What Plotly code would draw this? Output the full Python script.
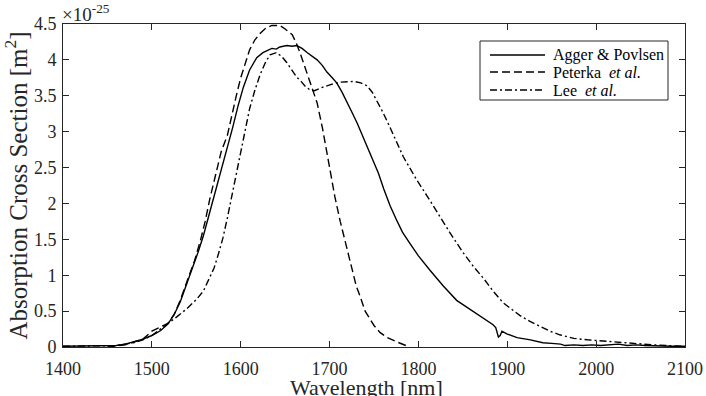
import plotly.graph_objects as go

# Agger & Povlsen (solid)
agger_wl = [1400, 1420, 1440, 1460, 1470, 1480, 1490, 1500, 1510, 1518, 1525, 1532, 1540, 1546, 1552, 1558,
            1564, 1569, 1575, 1580, 1586, 1591, 1597, 1603, 1610, 1618, 1625, 1635, 1640, 1644, 1652, 1658,
            1663, 1669, 1675, 1680, 1686, 1692, 1697, 1703, 1708, 1714, 1720, 1726, 1731, 1737, 1742, 1748,
            1755, 1761, 1768, 1775, 1782, 1790, 1800, 1813, 1828, 1843, 1855, 1866, 1876, 1884, 1887, 1890,
            1892, 1894, 1900, 1911, 1926, 1940, 1950, 1960, 1965, 1975, 1985, 1995, 2005, 2015, 2025, 2035,
            2045, 2055, 2070, 2085, 2100]
agger_val = [0.01, 0.01, 0.01, 0.02, 0.04, 0.07, 0.11, 0.16, 0.23, 0.32, 0.45, 0.63, 0.90, 1.10, 1.32, 1.55,
             1.82, 2.05, 2.33, 2.56, 2.84, 3.06, 3.36, 3.62, 3.86, 4.03, 4.10, 4.16, 4.15, 4.18, 4.20, 4.19,
             4.20, 4.16, 4.10, 4.05, 4.00, 3.92, 3.83, 3.75, 3.68, 3.55, 3.41, 3.25, 3.12, 2.95, 2.80, 2.63,
             2.42, 2.20, 1.97, 1.78, 1.60, 1.45, 1.27, 1.07, 0.85, 0.65, 0.55, 0.46, 0.38, 0.31, 0.27, 0.14,
             0.16, 0.22, 0.18, 0.13, 0.10, 0.06, 0.05, 0.04, 0.02, 0.03, 0.02, 0.03, 0.02, 0.03, 0.04, 0.02,
             0.03, 0.02, 0.01, 0.01, 0.01]

# Peterka et al. (dashed)
peterka_wl = [1450, 1470, 1490, 1500, 1510, 1518, 1525, 1532, 1540, 1548, 1555, 1560, 1565, 1572, 1578, 1585,
              1590, 1595, 1600, 1605, 1610, 1616, 1622, 1628, 1635, 1644, 1650, 1658, 1663, 1667, 1672, 1678,
              1686, 1692, 1698, 1702, 1706, 1712, 1716, 1720, 1725, 1730, 1734, 1740, 1745, 1750, 1757, 1765,
              1776, 1787, 1790]
peterka_val = [0.00, 0.03, 0.11, 0.22, 0.28, 0.33, 0.45, 0.65, 0.93, 1.20, 1.50, 1.75, 2.05, 2.42, 2.72, 2.95,
               3.25, 3.50, 3.75, 3.96, 4.14, 4.28, 4.37, 4.44, 4.48, 4.48, 4.43, 4.35, 4.22, 4.09, 3.90, 3.68,
               3.40, 3.05, 2.65, 2.38, 2.09, 1.75, 1.55, 1.35, 1.10, 0.85, 0.72, 0.50, 0.40, 0.30, 0.20, 0.13,
               0.07, 0.01, 0.00]

# Lee et al. (dash-dot)
lee_wl = [1400, 1430, 1460, 1480, 1490, 1500, 1510, 1518, 1528, 1539, 1550, 1558, 1564, 1570, 1575, 1580,
          1585, 1590, 1595, 1600, 1605, 1610, 1616, 1622, 1628, 1633, 1640, 1646, 1652, 1658, 1663, 1668,
          1672, 1678, 1683, 1690, 1697, 1705, 1712, 1720, 1728, 1735, 1742, 1748, 1753, 1760, 1768, 1775,
          1783, 1790, 1798, 1810, 1821, 1835, 1850, 1862, 1873, 1884, 1895, 1905, 1914, 1925, 1937, 1948,
          1959, 1975, 1990, 2010, 2027, 2045, 2064, 2080, 2098]
lee_val = [0.01, 0.01, 0.02, 0.06, 0.10, 0.16, 0.25, 0.32, 0.42, 0.53, 0.66, 0.78, 0.93, 1.10, 1.30, 1.52,
           1.80, 2.10, 2.45, 2.75, 3.05, 3.32, 3.58, 3.80, 3.97, 4.07, 4.10, 4.05, 3.96, 3.85, 3.76, 3.70,
           3.64, 3.58, 3.57, 3.61, 3.64, 3.67, 3.69, 3.70, 3.70, 3.68, 3.64, 3.55, 3.44, 3.27, 3.06, 2.87,
           2.65, 2.50, 2.33, 2.10, 1.88, 1.60, 1.32, 1.12, 0.96, 0.78, 0.62, 0.52, 0.44, 0.36, 0.29, 0.22,
           0.17, 0.12, 0.10, 0.08, 0.06, 0.04, 0.03, 0.02, 0.01]

series_names = ["Agger & Povlsen", "Peterka  <i>et al.</i>", "Lee  <i>et al.</i>"]
series_dash = ["solid", "8px,4px", "7px,3px,2px,3px"]

x_ticks = [1400, 1500, 1600, 1700, 1800, 1900, 2000, 2100]
y_ticks = [0, 0.5, 1, 1.5, 2, 2.5, 3, 3.5, 4, 4.5]
y_tick_labels = ["0", "0.5", "1", "1.5", "2", "2.5", "3", "3.5", "4", "4.5"]
x_title = "Wavelength [nm]"
y_title = "Absorption Cross Section [m<sup>2</sup>]"

FONT = "Liberation Serif, Times New Roman, serif"
AX = "#262626"

fig = go.Figure()
for wl, val, name, dash in zip([agger_wl, peterka_wl, lee_wl], [agger_val, peterka_val, lee_val],
                               series_names, series_dash):
    fig.add_trace(go.Scatter(x=wl, y=val, mode="lines", name=name, showlegend=False,
                             line=dict(color="black", width=1.4, dash=dash)))

axis_common = dict(showgrid=False, zeroline=False, showline=True, linecolor=AX, linewidth=1,
                   mirror="allticks", ticks="inside", ticklen=6, tickcolor=AX, tickwidth=1,
                   automargin=False,
                   tickfont=dict(family=FONT, size=18, color=AX))

fig.update_xaxes(range=[1400, 2100], tickvals=x_ticks, ticktext=[str(v) for v in x_ticks],
                 ticklabelstandoff=5, **axis_common)
fig.update_yaxes(range=[0, 4.5], tickvals=y_ticks, ticktext=y_tick_labels, ticklabelstandoff=2,
                 title=dict(text=y_title, font=dict(family=FONT, size=25, color=AX), standoff=2),
                 **axis_common)

# pixel geometry of the plot area on the page
px_l, px_r, px_t, px_b = 63, 685, 24, 347
def px2paper_x(px):
    return (px - px_l) / (px_r - px_l)
def px2paper_y(py):
    return (px_b - py) / (px_b - px_t)

# x-axis title (placed as annotation so it can sit below the tick labels, partly clipped like the original)
fig.add_annotation(xref="paper", yref="paper", x=px2paper_x(366), y=0, xanchor="center", yanchor="top",
                   text=x_title, showarrow=False, yshift=-26,
                   font=dict(family=FONT, size=22, color=AX))

# exponent label
fig.add_annotation(xref="paper", yref="paper", x=0.0, y=1.0, xanchor="left", yanchor="bottom",
                   text="×10<sup>-25</sup>", showarrow=False, yshift=-3, xshift=-3,
                   font=dict(family=FONT, size=19, color=AX))

# legend box (drawn manually to match MATLAB legend geometry)
fig.add_shape(type="rect", xref="paper", yref="paper",
              x0=px2paper_x(480), x1=px2paper_x(668), y0=px2paper_y(100), y1=px2paper_y(41),
              line=dict(color=AX, width=1), fillcolor="white", layer="above")
row_y = [55, 72, 90]
for name, dash, ry in zip(series_names, series_dash, row_y):
    fig.add_shape(type="line", xref="paper", yref="paper",
                  x0=px2paper_x(490), x1=px2paper_x(545), y0=px2paper_y(ry), y1=px2paper_y(ry),
                  line=dict(color="black", width=1.4, dash=dash), layer="above")
    fig.add_annotation(xref="paper", yref="paper", x=px2paper_x(551), y=px2paper_y(ry),
                       xanchor="left", yanchor="middle", text=name, showarrow=False,
                       font=dict(family=FONT, size=16, color="black"))

fig.update_layout(
    width=706, height=396,
    margin=dict(l=px_l, r=706 - px_r, t=px_t, b=396 - px_b),
    paper_bgcolor="white", plot_bgcolor="white",
    font=dict(family=FONT, color=AX),
    showlegend=False,
)

fig.write_html("out.html", config={"displayModeBar": False},
               post_script="document.body.style.margin='0';document.body.style.overflow='hidden';")
